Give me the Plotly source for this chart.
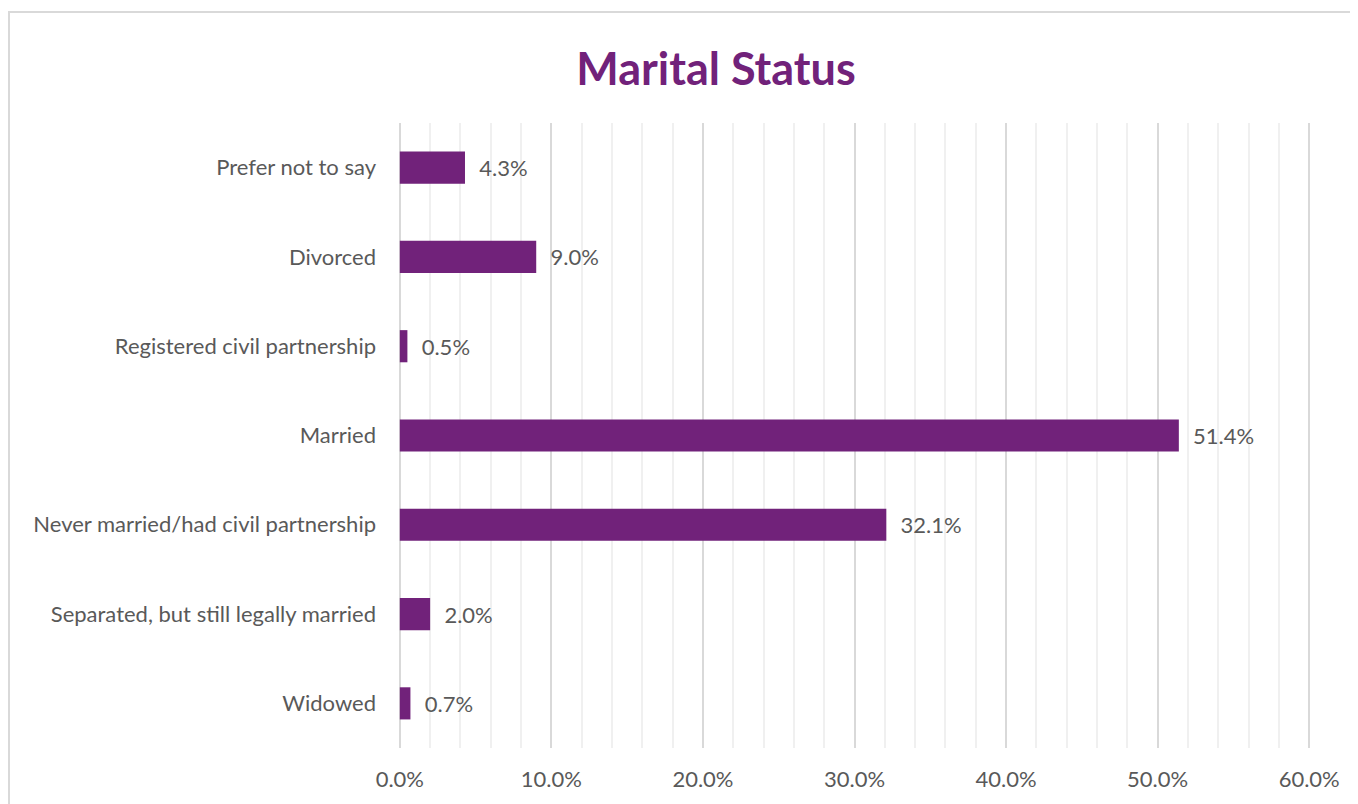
import plotly.graph_objects as go

categories = ["Widowed", "Separated, but still legally married",
              "Never married/had civil partnership", "Married",
              "Registered civil partnership", "Divorced", "Prefer not to say"]
values = [0.007, 0.020, 0.321, 0.514, 0.005, 0.090, 0.043]
tick_vals = [0, 0.1, 0.2, 0.3, 0.4, 0.5, 0.6]
tick_text = ["0.0%", "10.0%", "20.0%", "30.0%", "40.0%", "50.0%", "60.0%"]

PURPLE = "#71227A"
GRAY = "#595959"
FONT = "Lato"
FS = 22

# page offset of 8px observed in the renderer
OFF = 8
W, H = 1358, 804
L, R, T, B = 398 - OFF, 47 + OFF, 123 - OFF, 56 + OFF
pw, ph = W - L - R, H - T - B

fig = go.Figure(go.Bar(
    x=values, y=categories, orientation="h",
    marker=dict(color=PURPLE, line=dict(width=0)),
    text=["  " + f"{v*100:.1f}%" for v in values],
    textposition="outside", cliponaxis=False,
    textfont=dict(family=FONT, size=FS, color=GRAY),
))

fig.update_layout(
    width=W, height=H,
    margin=dict(l=L, r=R, t=T, b=B, pad=0),
    paper_bgcolor="white", plot_bgcolor="white",
    bargap=0.64, showlegend=False,
    title=dict(text="<b>Marital Status</b>", x=(716 - OFF) / W, xanchor="center",
               y=1 - (69 - OFF) / H, yanchor="middle",
               font=dict(family=FONT, size=45, color=PURPLE)),
    font=dict(family=FONT, size=FS, color=GRAY),
    xaxis=dict(range=[-0.0012, 0.6012], tickvals=tick_vals, ticktext=tick_text,
               showgrid=True, gridcolor="#D9D9D9", gridwidth=2,
               zeroline=False, showline=False, ticks="",
               ticklabelstandoff=16,
               minor=dict(dtick=0.02, tick0=0, showgrid=True,
                          gridcolor="#F0F0F0", gridwidth=2),
               tickfont=dict(family=FONT, size=FS, color=GRAY)),
    yaxis=dict(showgrid=False, zeroline=False, showline=False,
               ticks="", ticklabelstandoff=21,
               tickfont=dict(family=FONT, size=FS, color=GRAY)),
    shapes=[dict(type="rect", xref="paper", yref="paper",
                 x0=(9 - OFF - L) / pw, x1=(W + 20 - L) / pw,
                 y0=-(B + 20) / ph, y1=(H - B - 12 + OFF) / ph,
                 line=dict(color="#D9D9D9", width=2), fillcolor="rgba(0,0,0,0)",
                 layer="below")],
)

fig.write_html("out.html")
